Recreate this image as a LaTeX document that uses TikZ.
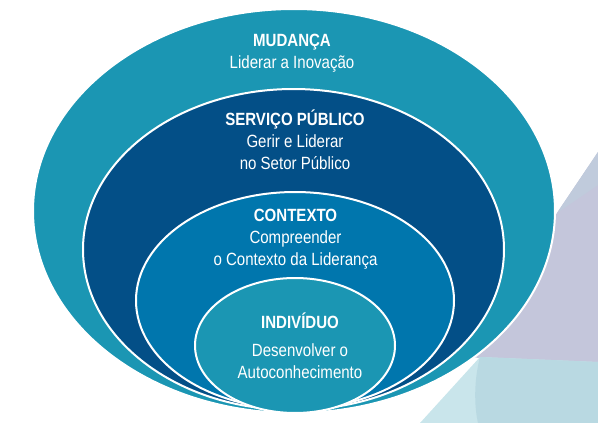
\documentclass[tikz,border=0pt]{standalone}
\usepackage{fontspec}
\setmainfont{Liberation Sans}[FakeStretch=0.85]
\usetikzlibrary{positioning}
\definecolor{ringteal}{HTML}{1B96B3}
\definecolor{ringnavy}{HTML}{034F87}
\definecolor{ringblue}{HTML}{0076AD}
\definecolor{lavender}{HTML}{C4C6DB}
\definecolor{lavenderlight}{HTML}{C0CBDC}
\definecolor{palecyan}{HTML}{C9E5EB}
\definecolor{softcyan}{HTML}{B9D9E2}

\begin{document}
\begin{tikzpicture}[x=1pt, y=-1pt,
    ring/.style={draw=white, line width=2pt},
    ringtext/.style={text=white, align=center, inner sep=0pt,
      font=\fontsize{17.7}{22}\selectfont}]
  \useasboundingbox (0,0) rectangle (598,423);

  % background shapes
  \fill[lavender] (598,152) -- (460,357) -- (598,363) -- cycle;
  \fill[lavenderlight] (598,152) -- (557,213) -- (598,185) -- cycle;
  \fill[palecyan] (480,357) -- (420,423) -- (598,423) -- (598,362) -- cycle;
  \fill[softcyan] (480,357) .. controls (474,380) and (474,405) .. (478,423)
    -- (598,423) -- (598,362) -- cycle;

  % rings, outside in
  \draw[ring, fill=ringteal] (294,211) ellipse [x radius=261pt, y radius=202pt];
  \draw[ring, fill=ringnavy] (293.5,249.5) ellipse [x radius=210.5pt, y radius=160.5pt];
  \draw[ring, fill=ringblue] (295,300.5) ellipse [x radius=159pt, y radius=108.5pt];
  \draw[ring, fill=ringteal] (295,345.5) ellipse [x radius=100pt, y radius=67.5pt];

  % labels
  \node[ringtext] (mudanca) at (292,53.5) {\textbf{MUDANÇA}\\Liderar a Inovação};
  \node[ringtext] (servico) at (295,140) {\textbf{SERVIÇO PÚBLICO}\\Gerir e Liderar\\no Setor Público};
  \node[ringtext] (contexto) at (295.5,239) {\textbf{CONTEXTO}\\Compreender\\o Contexto da Liderança};
  \node[ringtext] (individuo) at (300,346) {\textbf{INDIVÍDUO}\\[6pt]Desenvolver o\\Autoconhecimento};
\end{tikzpicture}
\end{document}
